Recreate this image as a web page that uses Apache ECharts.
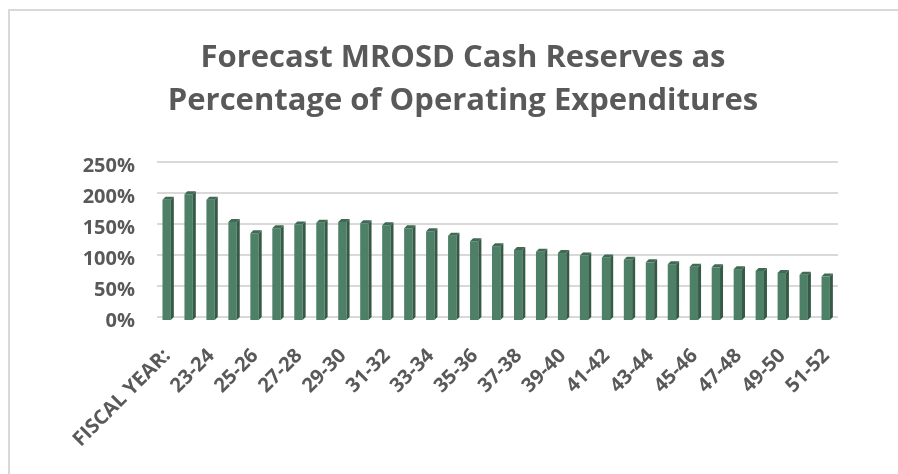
<!DOCTYPE html>
<html>
<head>
<meta charset="utf-8">
<script src="https://cdn.jsdelivr.net/npm/echarts@6/dist/echarts.min.js"></script>
<style>
	html, body { margin: 0; padding: 0; background: #fff; }
	#chart { width: 898px; height: 474px; }
	.frame { position: absolute; left: 8px; top: 9px; right: 0; bottom: 0; border-top: 2px solid #d9d9d9; border-left: 2px solid #d9d9d9; pointer-events: none; }
</style>
</head>
<body>
<div id="chart"></div>
<div class="frame"></div>
<script>
const titleLines = ['Forecast MROSD Cash Reserves as', 'Percentage of Operating Expenditures']

const categories = [
	'FISCAL YEAR:', '22-23', '23-24', '24-25', '25-26', '26-27', '27-28', '28-29',
	'29-30', '30-31', '31-32', '32-33', '33-34', '34-35', '35-36', '36-37',
	'37-38', '38-39', '39-40', '40-41', '41-42', '42-43', '43-44', '44-45',
	'45-46', '46-47', '47-48', '48-49', '49-50', '50-51', '51-52'
]

// reserves as % of operating expenditures
const reserves = [
	194, 203, 194, 158, 140, 148, 154, 157,
	158, 156, 153, 148, 143, 136, 127, 119,
	113, 110, 108, 104, 101, 97, 93, 90,
	86, 85, 82, 79, 76, 73, 70
]

const yTicks = { min: 0, max: 250, step: 50 }

const textColor = '#595959'
const gridColor = '#d9d9d9'

// fake 3D column: front face + right side + top
const drawBar = (params, api) => {
	const top = api.coord([api.value(0), api.value(1)])
	const base = api.coord([api.value(0), 0])
	const band = api.size([1, 0])[0]
	const fw = band * 0.38
	const d = 3
	const x0 = top[0] - band * 0.25
	const yt = top[1] + 3
	const yb = base[1] + 3
	return {
		type: 'group',
		children: [
			{
				type: 'rect',
				shape: { x: x0, y: yt, width: fw, height: yb - yt },
				style: { fill: '#4e7f67' }
			},
			{
				type: 'polygon',
				shape: { points: [ [ x0 + fw, yt ], [ x0 + fw + d, yt - d ], [ x0 + fw + d, yb - d ], [ x0 + fw, yb ] ] },
				style: { fill: '#355a46' }
			},
			{
				type: 'polygon',
				shape: { points: [ [ x0, yt ], [ x0 + d, yt - d ], [ x0 + fw + d, yt - d ], [ x0 + fw, yt ] ] },
				style: { fill: '#3f6b55' }
			}
		]
	}
}

const labelFont = {
	fontFamily: 'Open Sans',
	fontWeight: 'bold',
	fontSize: 20,
	color: textColor
}

const options = {
	animation: false,
	title: {
		text: titleLines.join('\n'),
		left: 458,
		top: 32,
		textAlign: 'center',
		textStyle: {
			fontFamily: 'Open Sans',
			fontWeight: 'bold',
			fontSize: 31,
			lineHeight: 43,
			color: textColor
		}
	},
	grid: { left: 157, right: 60, top: 162, bottom: 157, containLabel: false },
	xAxis: {
		type: 'category',
		data: categories,
		axisLine: { show: false },
		axisTick: { show: false },
		axisLabel: {
			interval: 1,
			rotate: 45,
			margin: 8,
			formatter: v => '{a|' + v + '}',
			rich: { a: Object.assign({ padding: [ 38, 20, 0, 0 ] }, labelFont) }
		}
	},
	yAxis: {
		type: 'value',
		min: yTicks.min,
		max: yTicks.max,
		interval: yTicks.step,
		axisLine: { show: false },
		axisTick: { show: false },
		splitLine: { lineStyle: { color: gridColor, width: 2 } },
		axisLabel: {
			margin: 22,
			formatter: v => '{a|' + v + '%}',
			rich: { a: Object.assign({ padding: [ 9, 0, 0, 0 ] }, labelFont) }
		}
	},
	series: [
		{
			type: 'custom',
			renderItem: drawBar,
			encode: { x: 0, y: 1 },
			data: reserves.map((v, i) => [ i, v ])
		}
	]
}

echarts.init(document.getElementById('chart')).setOption(options)
</script>
</body>
</html>
